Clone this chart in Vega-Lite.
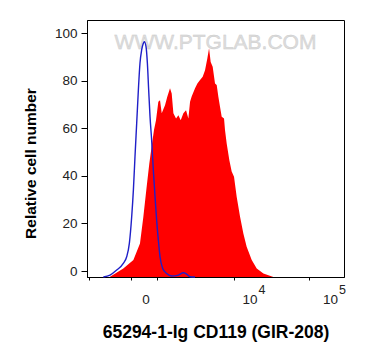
{
  "$schema": "https://vega.github.io/schema/vega-lite/v6.json",
  "width": 257,
  "height": 257,
  "autosize": {"type": "none"},
  "padding": {"left": 87, "top": 20, "right": 21, "bottom": 83},
  "background": "white",
  "config": {
    "font": "Liberation Sans",
    "view": {"stroke": "#000", "strokeWidth": 1},
    "axis": {"domainColor": "#000", "tickColor": "#000", "labelColor": "#222", "titleColor": "#000", "grid": false}
  },
  "datasets": {
    "sample": [
      {"u": 2.311, "count": -2.4}, {"u": 2.476, "count": 1.1}, {"u": 2.601, "count": 4.6}, {"u": 2.683, "count": 11.6},
      {"u": 2.725, "count": 22.8}, {"u": 2.766, "count": 35.4}, {"u": 2.799, "count": 45.2}, {"u": 2.828, "count": 52.3},
      {"u": 2.857, "count": 59.3}, {"u": 2.882, "count": 63.4}, {"u": 2.911, "count": 71.1}, {"u": 2.932, "count": 71.8},
      {"u": 2.953, "count": 66.3}, {"u": 2.994, "count": 69.7}, {"u": 3.023, "count": 73.3}, {"u": 3.056, "count": 76.8},
      {"u": 3.077, "count": 74.6}, {"u": 3.098, "count": 66.3}, {"u": 3.131, "count": 64.1}, {"u": 3.16, "count": 65.5},
      {"u": 3.189, "count": 63.4}, {"u": 3.222, "count": 66.3}, {"u": 3.255, "count": 67.6}, {"u": 3.284, "count": 64.1},
      {"u": 3.305, "count": 71.1}, {"u": 3.325, "count": 73.3}, {"u": 3.367, "count": 76.8}, {"u": 3.396, "count": 78.8},
      {"u": 3.429, "count": 80.3}, {"u": 3.462, "count": 81.7}, {"u": 3.491, "count": 84.4}, {"u": 3.52, "count": 89.4},
      {"u": 3.541, "count": 93.6}, {"u": 3.561, "count": 87.9}, {"u": 3.586, "count": 85.9}, {"u": 3.615, "count": 78.8},
      {"u": 3.636, "count": 78.2}, {"u": 3.656, "count": 73.3}, {"u": 3.677, "count": 69.0}, {"u": 3.698, "count": 64.8},
      {"u": 3.727, "count": 64.1}, {"u": 3.739, "count": 59.3}, {"u": 3.76, "count": 53.6}, {"u": 3.793, "count": 46.6},
      {"u": 3.822, "count": 41.8}, {"u": 3.851, "count": 39.6}, {"u": 3.884, "count": 31.2}, {"u": 3.926, "count": 22.8},
      {"u": 3.967, "count": 15.8}, {"u": 4.008, "count": 10.2}, {"u": 4.071, "count": 4.6}, {"u": 4.133, "count": 1.1},
      {"u": 4.216, "count": -1.0}, {"u": 4.34, "count": -2.5}
    ],
    "control": [
      {"u": 2.228, "count": -2.5}, {"u": 2.311, "count": -1.7}, {"u": 2.394, "count": 0.4}, {"u": 2.476, "count": 3.2},
      {"u": 2.518, "count": 6.0}, {"u": 2.551, "count": 11.6}, {"u": 2.58, "count": 22.8}, {"u": 2.601, "count": 34.0},
      {"u": 2.621, "count": 48.0}, {"u": 2.642, "count": 62.0}, {"u": 2.663, "count": 76.1}, {"u": 2.683, "count": 87.3},
      {"u": 2.704, "count": 92.9}, {"u": 2.725, "count": 95.7}, {"u": 2.737, "count": 96.4}, {"u": 2.758, "count": 94.3},
      {"u": 2.775, "count": 87.3}, {"u": 2.791, "count": 76.1}, {"u": 2.808, "count": 64.8}, {"u": 2.828, "count": 55.0},
      {"u": 2.849, "count": 42.4}, {"u": 2.87, "count": 31.2}, {"u": 2.89, "count": 21.4}, {"u": 2.911, "count": 13.0},
      {"u": 2.932, "count": 6.0}, {"u": 2.965, "count": 1.1}, {"u": 3.015, "count": -1.0}, {"u": 3.077, "count": -2.1},
      {"u": 3.16, "count": -1.7}, {"u": 3.222, "count": -0.7}, {"u": 3.263, "count": -1.3}, {"u": 3.305, "count": -2.4},
      {"u": 3.367, "count": -2.5}
    ],
    "ticklabels": [
      {"u": 2.708, "base": "0", "exp": ""}, {"u": 4, "base": "10", "exp": "4"}, {"u": 5, "base": "10", "exp": "5"}
    ],
    "watermark": [
      {"text": "WWW.PTGLAB.COM"}
    ]
  },
  "layer": [
    {
      "data": {"name": "sample"},
      "mark": {"type": "area", "color": "#ff0000", "interpolate": "linear"},
      "encoding": {
        "x": {
          "field": "u", "type": "quantitative",
          "scale": {"domain": [2.025, 5.217], "nice": false, "zero": false},
          "axis": {
            "title": "65294-1-Ig CD119 (GIR-208)",
            "titleFontSize": 17.5, "titleFontWeight": "bold", "titleBaseline": "top", "titleY": 46,
            "values": [2.05, 2.17, 2.373, 2.406, 2.44, 2.473, 2.507, 2.54, 2.574, 2.607, 2.641, 2.674, 2.708, 2.75, 2.8, 2.85, 2.9, 2.95, 3, 3.301, 3.477, 3.602, 3.699, 3.778, 3.845, 3.903, 3.954, 4, 4.301, 4.477, 4.602, 4.699, 4.778, 4.845, 4.903, 4.954, 5],
            "labels": false,
            "tickSize": {"condition": {"test": "indexof([2373, 2708, 3000, 4000, 5000], round(datum.value * 1000)) >= 0", "value": 6}, "value": 3}
          }
        },
        "y": {
          "field": "count", "type": "quantitative",
          "scale": {"domain": [-2.5, 105.5], "nice": false, "zero": false},
          "axis": {
            "title": "Relative cell number",
            "titleFontSize": 15.5, "titleFontWeight": "bold", "titleX": -49, "titleY": 143,
            "values": [0, 5, 10, 15, 20, 25, 30, 35, 40, 45, 50, 55, 60, 65, 70, 75, 80, 85, 90, 95, 100],
            "labelExpr": "datum.value % 20 === 0 ? datum.label : ''",
            "labelOverlap": false, "labelFlush": false,
            "labelFontSize": 13.5, "labelPadding": 4,
            "tickSize": {"condition": {"test": "datum.value % 20 === 0", "value": 6}, "value": 3}
          }
        },
        "y2": {"datum": -2.5}
      }
    },
    {
      "data": {"name": "watermark"},
      "mark": {"type": "text", "font": "Liberation Sans", "fontSize": 21, "fill": "#dadada", "stroke": "#c4c4c4", "strokeWidth": 0.4, "opacity": 0.9, "align": "center", "baseline": "middle"},
      "encoding": {
        "x": {"datum": 3.621, "type": "quantitative"},
        "y": {"datum": 95.8, "type": "quantitative"},
        "text": {"field": "text"}
      }
    },
    {
      "data": {"name": "control"},
      "mark": {"type": "line", "color": "#1f1fc8", "strokeWidth": 1.4, "interpolate": "monotone"},
      "encoding": {
        "x": {"field": "u", "type": "quantitative"},
        "y": {"field": "count", "type": "quantitative"}
      }
    },
    {
      "data": {"name": "ticklabels"},
      "mark": {"type": "text", "fontSize": 13.5, "fill": "#222", "align": "center", "baseline": "middle", "dx": 4},
      "encoding": {
        "x": {"field": "u", "type": "quantitative"},
        "y": {"datum": -12, "type": "quantitative"},
        "text": {"field": "base"}
      }
    },
    {
      "data": {"name": "ticklabels"},
      "mark": {"type": "text", "fontSize": 12.5, "fill": "#222", "align": "left", "baseline": "middle", "dx": 12.5},
      "encoding": {
        "x": {"field": "u", "type": "quantitative"},
        "y": {"datum": -8, "type": "quantitative"},
        "text": {"field": "exp"}
      }
    }
  ]
}
